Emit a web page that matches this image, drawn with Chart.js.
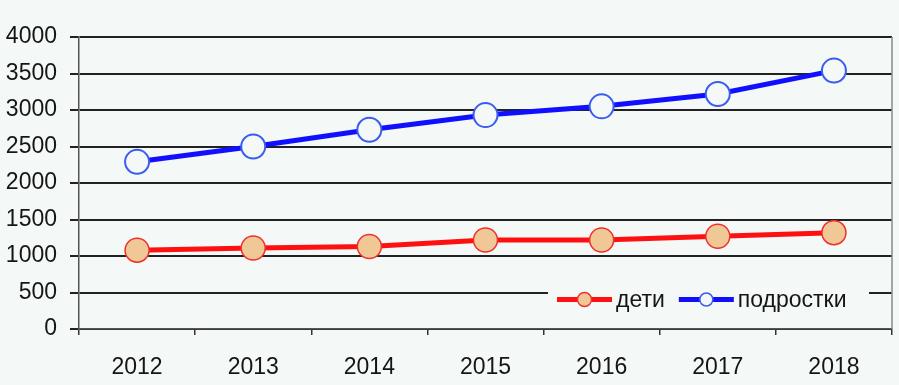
<!DOCTYPE html>
<html><head><meta charset="utf-8">
<script src="https://cdn.jsdelivr.net/npm/chart.js@4"></script>
<style>html,body{margin:0;padding:0;background:#f4f8f7;}#wrap{width:899px;height:385px;}</style>
</head><body><div id="wrap"><canvas id="c" width="899" height="385"></canvas></div>
<script>
const years = ['2012','2013','2014','2015','2016','2017','2018'];
const deti = [1080, 1110, 1130, 1220, 1220, 1270, 1320];
const podrostki = [2290, 2500, 2730, 2930, 3050, 3220, 3540];
const seriesNames = ['дети', 'подростки'];

const FONT = 'Arial, "Liberation Sans", sans-serif';
const FSIZE = 23;

const bgPlugin = {
  id: 'bg',
  beforeDraw(chart) {
    const ctx = chart.ctx;
    ctx.save(); ctx.fillStyle = '#f4f8f7'; ctx.fillRect(0, 0, chart.width, chart.height); ctx.restore();
  },
  afterDatasetsDraw(chart) {
    const ctx = chart.ctx, a = chart.chartArea;
    ctx.save();
    ctx.strokeStyle = '#8a8a8a'; ctx.lineWidth = 1.5;
    ctx.beginPath(); ctx.moveTo(a.right, a.top); ctx.lineTo(a.right, a.bottom); ctx.stroke();
    ctx.restore();
  },
  afterDraw(chart) {
    const ctx = chart.ctx, a = chart.chartArea;
    const y = chart.scales.y.getPixelForValue(500) + 7;
    const x0 = a.right - 344;
    ctx.save();
    ctx.fillStyle = '#f4f8f7';
    ctx.fillRect(x0, y - 13, 321, 26);
    const items = [
      {name: seriesNames[0], line: '#ff1010', fill: '#f0c896', border: '#f03030', r: 7},
      {name: seriesNames[1], line: '#1010ff', fill: '#f4f8f7', border: '#3a5cf0', r: 6.5}
    ];
    let x = x0 + 9;
    ctx.font = FSIZE + 'px ' + FONT;
    ctx.textBaseline = 'middle';
    items.forEach(it => {
      ctx.strokeStyle = it.line; ctx.lineWidth = 5;
      ctx.beginPath(); ctx.moveTo(x, y); ctx.lineTo(x + 55, y); ctx.stroke();
      ctx.beginPath(); ctx.arc(x + 27.5, y, it.r, 0, Math.PI * 2);
      ctx.fillStyle = it.fill; ctx.fill();
      ctx.lineWidth = 1.5; ctx.strokeStyle = it.border; ctx.stroke();
      ctx.fillStyle = '#151515';
      ctx.fillText(it.name, x + 59, y + 1);
      x += 59 + ctx.measureText(it.name).width + 14;
    });
    ctx.restore();
  }
};

new Chart(document.getElementById('c'), {
  type: 'line',
  data: {
    labels: years,
    datasets: [
      {label: seriesNames[0], data: deti, borderColor: '#ff1010', borderWidth: 5,
       pointRadius: 12, pointHoverRadius: 12, pointBackgroundColor: '#f0c896', pointBorderColor: '#f03030', pointBorderWidth: 1.5, tension: 0},
      {label: seriesNames[1], data: podrostki, borderColor: '#1010ff', borderWidth: 5,
       pointRadius: 12, pointHoverRadius: 12, pointBackgroundColor: '#f4f8f7', pointBorderColor: '#3a5cf0', pointBorderWidth: 2, tension: 0}
    ]
  },
  options: {
    responsive: false, animation: false, devicePixelRatio: 1,
    layout: {autoPadding: false, padding: {left: 0, right: 7, top: 37, bottom: 0}},
    plugins: {legend: {display: false}, title: {display: false}, tooltip: {enabled: false}},
    scales: {
      x: {
        offset: true,
        grid: {display: true, offset: true, drawOnChartArea: false, drawTicks: true, tickLength: 6, color: '#333', lineWidth: 1.5},
        border: {display: true, color: '#555', width: 1.5},
        ticks: {font: {size: FSIZE, family: FONT}, color: '#151515', padding: 19},
        afterFit(s) { s.height = 56; }
      },
      y: {
        min: 0, max: 4000,
        ticks: {stepSize: 500, font: {size: FSIZE, family: FONT}, color: '#151515', padding: 13,
                callback: v => String(v)},
        grid: {color: '#222', lineWidth: 2, tickLength: 9},
        border: {display: true, color: '#555', width: 1.5},
        afterFit(s) { s.width = 79; }
      }
    }
  },
  plugins: [bgPlugin]
});
</script>
</body></html>
